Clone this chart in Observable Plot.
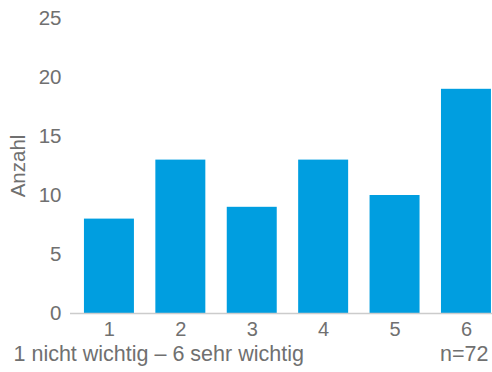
<!DOCTYPE html>
<html>
<head>
<meta charset="utf-8">
<script src="https://cdn.jsdelivr.net/npm/d3@7"></script>
<script src="https://cdn.jsdelivr.net/npm/@observablehq/plot@0.6"></script>
<style>
  html, body { margin: 0; padding: 0; background: #fff; }
</style>
</head>
<body>
<div id="chart"></div>
<script>
const categories = ["1", "2", "3", "4", "5", "6"];
const counts = [8, 13, 9, 13, 10, 19];
const yTicks = [0, 5, 10, 15, 20, 25];
const yLabel = "Anzahl";
const captionLeft = "1 nicht wichtig – 6 sehr wichtig";
const captionRight = "n=72";

const data = categories.map((c, i) => ({category: c, count: counts[i]}));
const gray = "#707070";
const font = "'Liberation Sans', Arial, sans-serif";

const chart = Plot.plot({
  width: 492,
  height: 372,
  marginLeft: 70,
  marginRight: 0,
  marginTop: 18,
  marginBottom: 59,
  style: {fontFamily: font, fontSize: "20px", color: gray, background: "#fff"},
  x: {domain: categories, paddingInner: 0.3, paddingOuter: 0.105, align: 0.93, round: false},
  y: {domain: [0, 25]},
  marks: [
    Plot.barY(data, {x: "category", y: "count", fill: "#009ee0"}),
    Plot.ruleY([0], {stroke: "#cccccc", strokeWidth: 1.5}),
    Plot.axisX({tickSize: 0, tickPadding: 8, label: null, fontSize: 20, fill: gray}),
    Plot.axisY({ticks: yTicks, tickSize: 0, tickPadding: 9, label: yLabel, labelAnchor: "center", labelArrow: "none", labelOffset: 60, fontSize: 20.5, fill: gray}),
    Plot.text([captionLeft], {frameAnchor: "bottom-left", dx: -57, dy: 47, textAnchor: "start", fontSize: 21.5, fill: gray}),
    Plot.text([captionRight], {frameAnchor: "bottom-right", dx: -4, dy: 47, textAnchor: "end", fontSize: 21.5, fill: gray})
  ]
});
document.getElementById("chart").appendChild(chart);
</script>
</body>
</html>
